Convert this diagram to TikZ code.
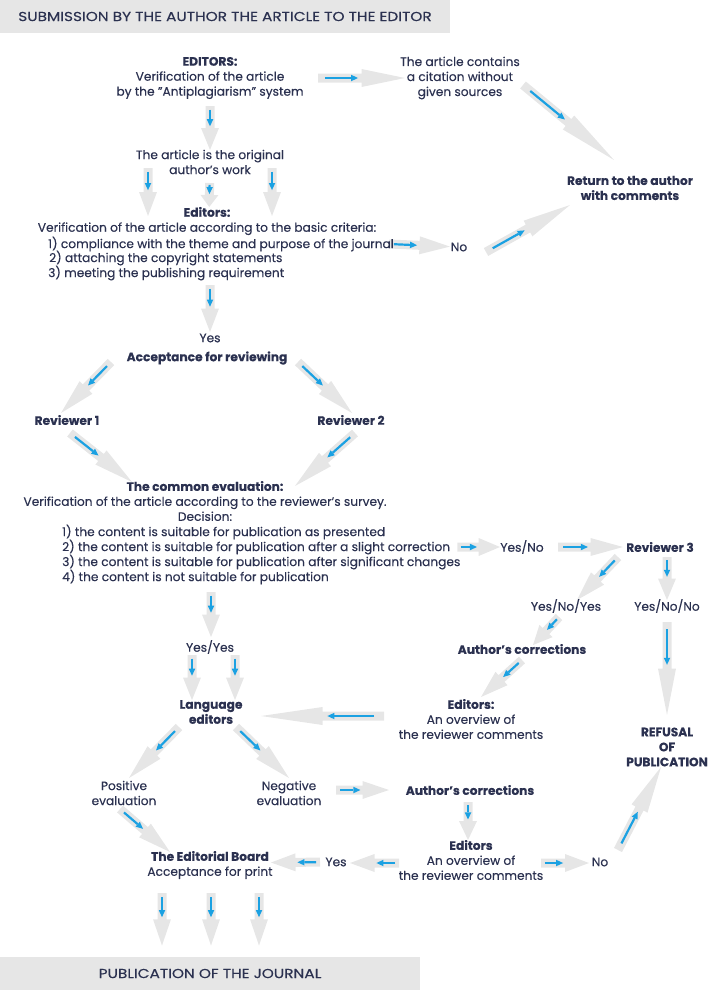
\documentclass[tikz,border=0pt]{standalone}
\usepackage{fontspec}
\setmainfont{Poppins}[FakeBold=0.3]
\newfontfamily\bannerfont{Poppins}[FakeStretch=1.18, FakeBold=0.3]
\usepackage{xcolor}
\usetikzlibrary{calc, arrows.meta, backgrounds}

\definecolor{ink}{HTML}{2B3150}
\definecolor{flowgrey}{HTML}{E6E6E6}
\definecolor{flowblue}{HTML}{1BA1E2}

\newcommand\flow[4]{%
	\coordinate (fs) at ($(#1)!#3!(#2)$);
	\coordinate (fe) at ($(#2)!#4!(#1)$);
	\coordinate (fm) at ($(fs)!0.5!(fe)$);
	\fill[flowgrey] ($(fs)!4.5pt!90:(fe)$) -- ($(fm)!4.5pt!90:(fe)$) -- ($(fm)!9pt!90:(fe)$) -- (fe)
		-- ($(fm)!9pt!-90:(fe)$) -- ($(fm)!4.5pt!-90:(fe)$) -- ($(fs)!4.5pt!-90:(fe)$) -- cycle;
	\draw[bluetip] ($(fs)!0.08!(fe)$) -- ($(fs)!0.46!(fe)$);
}

\begin{document}
\begin{tikzpicture}[x=1pt, y=-1pt,
		txt/.style={text=ink, font=\fontsize{12.2}{15}\selectfont, align=center, inner sep=1pt},
		head/.style={txt, font=\fontsize{12.2}{15}\selectfont\bfseries},
		item/.style={txt, anchor=west, align=left},
		banner/.style={fill=flowgrey, text=ink, font=\bannerfont\fontsize{13}{15}\selectfont, minimum height=33pt, inner sep=0pt},
		bluetip/.style={draw=flowblue, line width=2.2pt, -{Triangle[width=6.5pt, length=7pt, line width=0pt]}}]
	\useasboundingbox (0,0) rectangle (709,990);

	\node[banner, minimum width=450pt] (submit) at (225,16.5) {SUBMISSION BY THE AUTHOR THE ARTICLE TO THE EDITOR};
	\node[banner, minimum width=420pt] (pub) at (210,973.5) {PUBLICATION OF THE JOURNAL};

	\node[txt] (editors) at (210,78) {\textbf{EDITORS:}\\Verification of the article\\by the "Antiplagiarism" system};
	\node[txt] (cite) at (460,78) {The article contains\\a citation without\\given sources};
	\node[head] (ret) at (630,188) {Return to the author\\with comments};
	\node[txt] (orig) at (210,162) {The article is the original\\author's work};
	\node[txt] (crit) at (207,221) {\textbf{Editors:}\\Verification of the article according to the basic criteria:};
	\node[item] (c1) at (47,244) {1) compliance with the theme and purpose of the journal};
	\node[item] (c2) at (48,258) {2) attaching the copyright statements};
	\node[item] (c3) at (47,273) {3) meeting the publishing requirement};
	\node[txt] (no1) at (459,247) {No};
	\node[txt] (yes1) at (210,338) {Yes};
	\node[head] (acc) at (207,358) {Acceptance for reviewing};
	\node[head] (rev1) at (67,420) {Reviewer 1};
	\node[head] (rev2) at (351,420) {Reviewer 2};
	\node[txt] (common) at (205,501) {\textbf{The common evaluation:}\\Verification of the article according to the reviewer's survey.\\Decision:};
	\node[item] (d1) at (61,532) {1) the content is suitable for publication as presented};
	\node[item] (d2) at (61,547) {2) the content is suitable for publication after a slight correction};
	\node[item] (d3) at (61,562) {3) the content is suitable for publication after significant changes};
	\node[item] (d4) at (61,577) {4) the content is not suitable for publication};
	\node[txt] (yesno) at (522,547) {Yes/No};
	\node[head] (rev3) at (660,547) {Reviewer 3};
	\node[txt] (yny) at (566,606) {Yes/No/Yes};
	\node[txt] (ynn) at (667,606) {Yes/No/No};
	\node[head] (corr1) at (522,649) {Author's corrections};
	\node[txt] (over1) at (471,719) {\textbf{Editors:}\\An overview of\\the reviewer comments};
	\node[head] (refusal) at (667,747) {REFUSAL\\OF\\PUBLICATION};
	\node[txt] (yesyes) at (210,647) {Yes/Yes};
	\node[head] (lang) at (211,712) {Language\\editors};
	\node[txt] (pos) at (124,793) {Positive\\evaluation};
	\node[txt] (neg) at (289,793) {Negative\\evaluation};
	\node[head] (corr2) at (470,790) {Author's corrections};
	\node[txt] (over2) at (471,860) {\textbf{Editors}\\An overview of\\the reviewer comments};
	\node[txt] (no2) at (600,862) {No};
	\node[txt] (yes2) at (336,862) {Yes};
	\node[txt] (board) at (210,865) {\textbf{The Editorial Board}\\Acceptance for print};

	\begin{pgfonlayer}{background}
	\flow{editors}{orig}{28pt}{12pt}
	\flow{editors}{cite}{108pt}{55pt}
	\flow{[shift={(63,7)}]cite}{[shift={(-16,-28)}]ret}{0pt}{0pt}
	\flow{[xshift=-62pt]orig}{[xshift=-59pt]crit}{6pt}{5pt}
	\flow{orig}{[xshift=2pt]crit}{21pt}{14pt}
	\flow{[xshift=62pt]orig}{[xshift=65pt]crit}{6pt}{5pt}
	\flow{[xshift=-6pt]c1.east}{no1}{0pt}{9pt}
	\flow{[shift={(27,5)}]no1}{[shift={(-60,17)}]ret}{0pt}{0pt}
	\flow{[xshift=3pt]crit}{yes1}{64pt}{6pt}
	\flow{[shift={(-96,4)}]acc}{[shift={(-6,-7)}]rev1}{0pt}{0pt}
	\flow{[shift={(91,4)}]acc}{[shift={(1,-7)}]rev2}{0pt}{0pt}
	\flow{[shift={(3,13)}]rev1}{[shift={(-73,-19)}]common}{0pt}{0pt}
	\flow{[shift={(4,13)}]rev2}{[shift={(90,-15)}]common}{0pt}{0pt}
	\flow{[xshift=6pt]d2.east}{yesno}{0pt}{22pt}
	\flow{yesno}{rev3}{36pt}{37pt}
	\flow{[shift={(-42,10)}]rev3}{[shift={(11,-6)}]yny}{0pt}{0pt}
	\flow{[xshift=7pt]rev3}{ynn}{10pt}{6pt}
	\flow{ynn}{refusal}{16pt}{32pt}
	\flow{[shift={(-7,11)}]yny}{[shift={(11,-4)}]corr1}{0pt}{0pt}
	\flow{[shift={(0,11)}]corr1}{[shift={(10,-22)}]over1}{0pt}{0pt}
	\flow{[shift={(0,-3)}]over1}{[shift={(0,4)}]lang}{87pt}{50pt}
	\flow{[xshift=6pt]common}{[xshift=1pt]yesyes}{91pt}{10pt}
	\flow{[xshift=-18pt]yesyes}{[xshift=-19pt]lang}{8pt}{12pt}
	\flow{[xshift=25pt]yesyes}{[xshift=24pt]lang}{8pt}{12pt}
	\flow{[shift={(-32,15)}]lang}{[shift={(5,-15)}]pos}{0pt}{0pt}
	\flow{[shift={(25,15)}]lang}{[shift={(0,-15)}]neg}{0pt}{0pt}
	\flow{[shift={(0,-3)}]neg}{corr2}{47pt}{81pt}
	\flow{[xshift=-2pt]corr2}{[xshift=-3pt]over2}{12pt}{20pt}
	\flow{[shift={(0,3)}]over2}{[shift={(0,1)}]no2}{70pt}{11pt}
	\flow{[shift={(18,-12)}]no2}{[shift={(-6,20)}]refusal}{0pt}{0pt}
	\flow{[shift={(0,3)}]over2}{[shift={(0,1)}]yes2}{72pt}{14pt}
	\flow{yes2}{[shift={(0,-2)}]board}{16pt}{61pt}
	\flow{[shift={(-4,16)}]pos}{[shift={(-40,-13)}]board}{0pt}{0pt}
	\flow{[xshift=-48pt]board}{[xshift=-48pt]pub}{28pt}{28pt}
	\flow{[xshift=1pt]board}{[xshift=1pt]pub}{28pt}{28pt}
	\flow{[xshift=49pt]board}{[xshift=49pt]pub}{28pt}{28pt}
	\end{pgfonlayer}
\end{tikzpicture}
\end{document}
